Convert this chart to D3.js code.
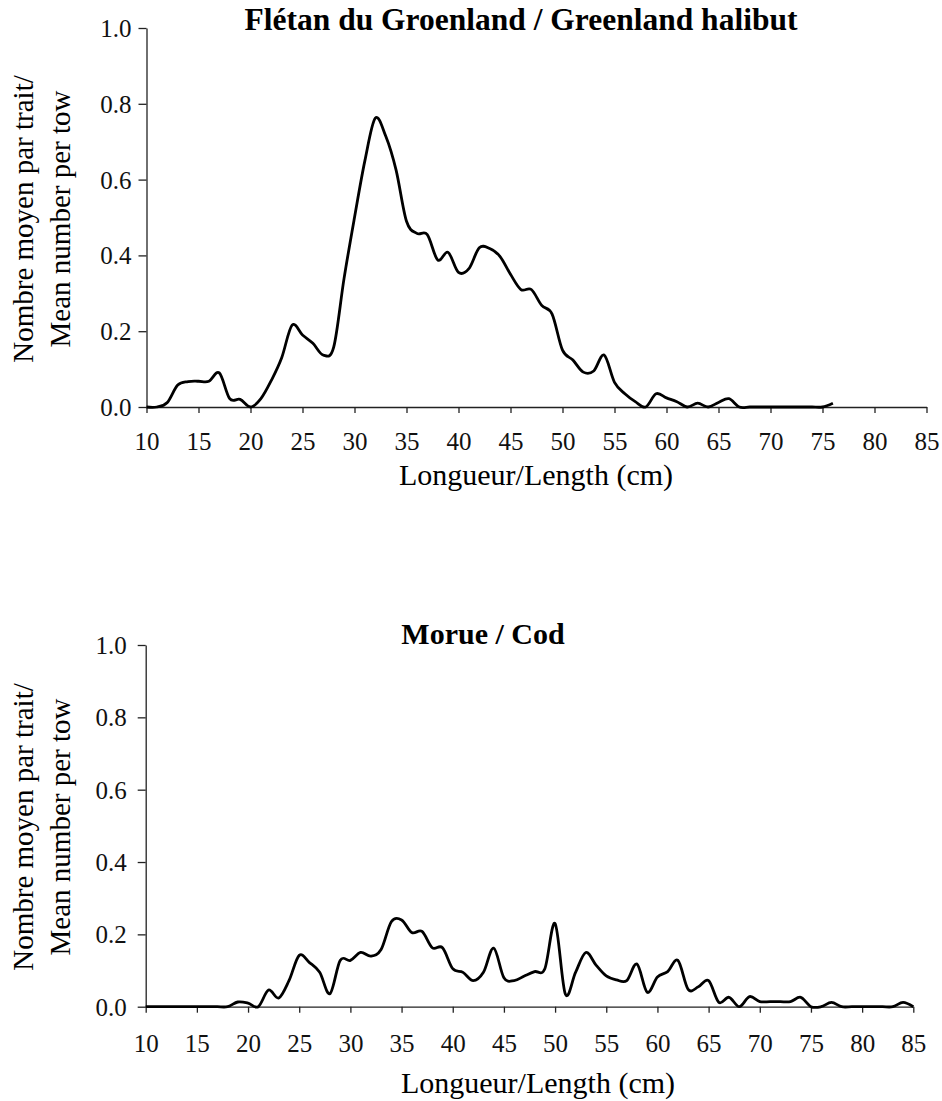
<!DOCTYPE html>
<html>
<head>
<meta charset="utf-8">
<script src="https://cdn.jsdelivr.net/npm/d3@7"></script>
<style>
  body { margin: 0; background: #fff; }
  svg { display: block; font-family: "Liberation Serif", "Times New Roman", serif; }
  svg text { font-family: "Liberation Serif", "Times New Roman", serif; }
</style>
</head>
<body>
<svg id="drawing_region"></svg>
<script>
// length classes (cm) and mean number per tow
const halibutLength = [10,11,12,13,14,15,16,17,18,19,20,21,22,23,24,25,26,27,28,29,30,31,32,33,34,35,36,37,38,39,40,41,42,43,44,45,46,47,48,49,50,51,52,53,54,55,56,57,58,59,60,61,62,63,64,65,66,67,68,69,70,71,72,73,74,75,76];
const halibutMean = [0,0,0.012,0.058,0.067,0.068,0.068,0.09,0.022,0.02,0,0.022,0.07,0.13,0.216,0.19,0.168,0.137,0.158,0.34,0.5,0.65,0.762,0.715,0.625,0.49,0.458,0.455,0.388,0.408,0.355,0.365,0.42,0.418,0.397,0.35,0.31,0.31,0.268,0.245,0.15,0.124,0.092,0.095,0.137,0.065,0.035,0.014,0,0.035,0.024,0.014,0,0.01,0,0.012,0.022,0,0,0,0,0,0,0,0,0,0.01];

const codLength = [10,11,12,13,14,15,16,17,18,19,20,21,22,23,24,25,26,27,28,29,30,31,32,33,34,35,36,37,38,39,40,41,42,43,44,45,46,47,48,49,50,51,52,53,54,55,56,57,58,59,60,61,62,63,64,65,66,67,68,69,70,71,72,73,74,75,76,77,78,79,80,81,82,83,84,85];
const codMean = [0,0,0,0,0,0,0,0,0,0.013,0.01,0,0.046,0.024,0.072,0.142,0.122,0.095,0.036,0.128,0.128,0.15,0.14,0.158,0.235,0.24,0.205,0.208,0.163,0.163,0.105,0.095,0.072,0.095,0.162,0.08,0.072,0.085,0.097,0.105,0.23,0.035,0.095,0.15,0.115,0.085,0.074,0.072,0.118,0.04,0.082,0.097,0.128,0.048,0.055,0.072,0.012,0.026,0,0.028,0.014,0.014,0.014,0.014,0.026,0,0,0.012,0,0,0,0,0,0,0.012,0];

const xTicks = [10,15,20,25,30,35,40,45,50,55,60,65,70,75,80,85];
const yTicks = [0,0.2,0.4,0.6,0.8,1.0];

const titleHalibut = "Flétan du Groenland / Greenland halibut";
const titleCod = "Morue / Cod";
const xTitle = "Longueur/Length (cm)";
const yTitle1 = "Nombre moyen par trait/";
const yTitle2 = "Mean number per tow";

class LengthChart {
    constructor (config, lengths, values) {
        this.config = config;
        this.data = lengths.map((l, i) => ({x: l, y: values[i]}));
        this.init();
    }

    init() {
        let self = this;
        let c = self.config;

        self.chart = d3.select(c.parent).append('g');

        self.xscale = d3.scaleLinear().domain([10, 85]).range([c.left, c.right]);
        self.yscale = d3.scaleLinear().domain([0, 1]).range([c.bottom, c.top]);

        self.xaxis = d3.axisBottom(self.xscale)
            .tickValues(xTicks)
            .tickSize(6)
            .tickSizeOuter(0)
            .tickFormat(d3.format('d'));

        self.yaxis = d3.axisLeft(self.yscale)
            .tickValues(yTicks)
            .tickSize(8)
            .tickSizeOuter(0)
            .tickFormat(d3.format('.1f'));

        self.line = d3.line()
            .x(d => self.xscale(d.x))
            .y(d => self.yscale(d.y))
            .curve(d3.curveCatmullRom.alpha(0));
    }

    render() {
        let self = this;
        let c = self.config;

        let xg = self.chart.append('g')
            .attr('transform', `translate(0, ${c.bottom})`)
            .call(self.xaxis)
            .attr('font-family', null)
            .attr('font-size', 25);
        xg.selectAll('text')
            .attr('y', c.xLabelY).attr('dy', 0)
            .attr('fill', '#111');

        let yg = self.chart.append('g')
            .attr('transform', `translate(${c.left}, 0)`)
            .call(self.yaxis)
            .attr('font-family', null)
            .attr('font-size', 25);
        yg.selectAll('text')
            .attr('x', -c.yLabelGap).attr('dy', '0.34em')
            .attr('fill', '#111');

        self.chart.selectAll('.domain, .tick line')
            .attr('stroke', '#222').attr('stroke-width', 1.3);

        self.chart.append('path')
            .attr('d', self.line(self.data))
            .attr('fill', 'none')
            .attr('stroke', '#000')
            .attr('stroke-width', 2.8)
            .attr('stroke-linejoin', 'round');

        self.chart.append('text')
            .attr('x', c.titleX).attr('y', c.titleY)
            .attr('text-anchor', 'middle')
            .style('font-size', c.titleSize).style('font-weight', 'bold')
            .text(c.title);

        self.chart.append('text')
            .attr('x', c.xTitleX).attr('y', c.xTitleY)
            .attr('text-anchor', 'middle')
            .style('font-size', '30px')
            .text(xTitle);

        // two-line y title, both lines centred on the plot height
        self.chart.append('text')
            .attr('transform', `translate(33, ${c.yTitleMid}) rotate(-90)`)
            .attr('text-anchor', 'middle')
            .style('font-size', '29px')
            .text(yTitle1);

        self.chart.append('text')
            .attr('transform', `translate(70, ${c.yTitleMid}) rotate(-90)`)
            .attr('text-anchor', 'middle')
            .style('font-size', '29px')
            .text(yTitle2);
    }
}

d3.select('#drawing_region')
    .attr('width', 942)
    .attr('height', 1101);

const halibutChart = new LengthChart({
    parent: '#drawing_region',
    left: 146.5, right: 926.5, top: 28, bottom: 407,
    xLabelY: 43, yLabelGap: 15,
    title: titleHalibut, titleSize: '31.5px', titleX: 521, titleY: 30,
    xTitleX: 536, xTitleY: 485,
    yTitleMid: 219
}, halibutLength, halibutMean);
halibutChart.render();

const codChart = new LengthChart({
    parent: '#drawing_region',
    left: 145.7, right: 913.3, top: 645, bottom: 1006.7,
    xLabelY: 45, yLabelGap: 19,
    title: titleCod, titleSize: '30px', titleX: 483, titleY: 644,
    xTitleX: 538, xTitleY: 1093,
    yTitleMid: 827
}, codLength, codMean);
codChart.render();
</script>
</body>
</html>
